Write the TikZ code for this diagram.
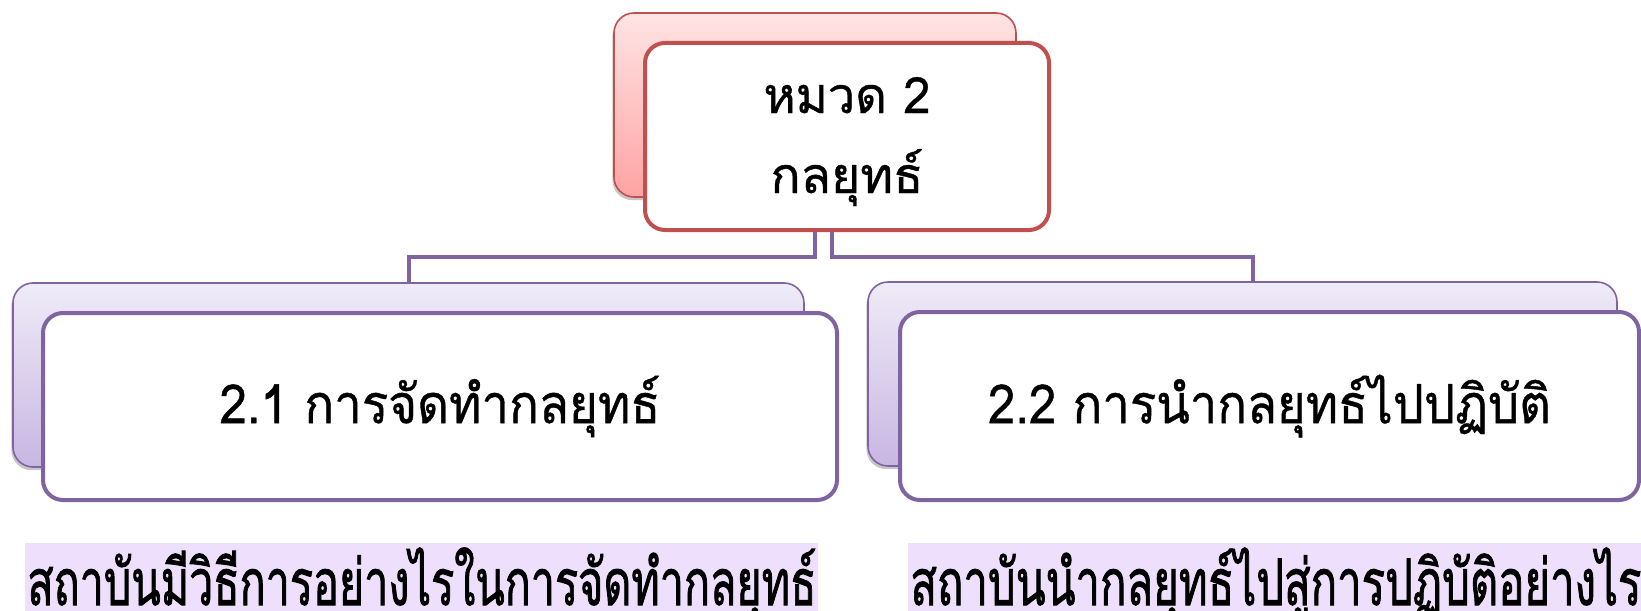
\documentclass[tikz,border=0pt]{standalone}
\usepackage{fontspec}
\usepackage{graphicx}
\newfontfamily\thai[Script=Thai,FakeBold=0.8]{Loma}
\newfontfamily\thaiheavy[Script=Thai,FakeBold=1.6]{Loma}
\usetikzlibrary{calc,shadows}

\definecolor{redline}{HTML}{C0504D}
\definecolor{purpline}{HTML}{8064A2}
\definecolor{pinktop}{HTML}{FFE4E4}
\definecolor{pinkbot}{HTML}{FFA3A3}
\definecolor{lavtop}{HTML}{EFEBF7}
\definecolor{lavbot}{HTML}{C8B6E2}
\definecolor{markbg}{HTML}{EEE0FC}

\tikzset{
  softshadow/.style={drop shadow={shadow xshift=-0.8pt, shadow yshift=-1.6pt, opacity=0.22, fill=black}},
  backcard/.style={rounded corners=10pt, inner sep=0pt, line width=0.8pt, softshadow},
  frontcard/.style={rounded corners=10pt, inner sep=0pt, line width=2pt, fill=white, align=center},
  redback/.style={backcard, draw=redline, top color=pinktop, bottom color=pinkbot},
  redfront/.style={frontcard, draw=redline},
  purback/.style={backcard, draw=purpline, top color=lavtop, bottom color=lavbot},
  purfront/.style={frontcard, draw=purpline, font=\thai\fontsize{27pt}{32pt}\selectfont},
  titleline/.style={inner sep=0pt, anchor=base, font=\thai\fontsize{25pt}{30pt}\selectfont},
  conn/.style={draw=purpline, line width=2pt},
  caption/.style={fill=markbg, inner xsep=1pt, inner ysep=0pt, text height=31pt, text depth=6pt, anchor=base west, font=\thaiheavy\fontsize{32pt}{36pt}\selectfont},
}

\begin{document}
\begin{tikzpicture}[x=0.5pt, y=-0.5pt]
  \useasboundingbox (0,0) rectangle (1641,610);
  \fill[white] (0,0) rectangle (1641,610);

  % top card: chapter title
  \node[redback, minimum width=201pt, minimum height=92pt] (topback) at (815,105) {};
  \node[redfront, minimum width=202pt, minimum height=93.5pt] (topfront) at (847,136.5) {};
  \node[titleline] (title1) at (847,113) {\resizebox{83.5pt}{\height}{หมวด 2}};
  \node[titleline] (title2) at (847,193) {\resizebox{76.5pt}{\height}{กลยุทธ์}};

  % second level cards
  \node[purback, minimum width=395.5pt, minimum height=92pt] (leftback) at (408.5,375) {};
  \node[purfront, minimum width=397pt, minimum height=93.5pt] (leftfront) at (440,406.5)
    {\resizebox{220.5pt}{\height}{2.1 การจัดทำกลยุทธ์}};

  \node[purback, minimum width=374.5pt, minimum height=92pt] (rightback) at (1242.5,374) {};
  \node[purfront, minimum width=369.5pt, minimum height=94pt] (rightfront) at (1269.5,406)
    {\resizebox{281.5pt}{\height}{2.2 การนำกลยุทธ์ไปปฏิบัติ}};

  % hierarchy connectors
  \coordinate (bus) at (0,257);
  \coordinate (tapL) at (topback.south);
  \coordinate (tapR) at ([xshift=8.5pt]topback.south);
  \coordinate (dropR) at ([xshift=5.25pt]rightback.north);
  \draw[conn] (tapL |- topfront.south) -- (tapL |- bus) -| (leftback.north);
  \draw[conn] (tapR |- topfront.south) -- (tapR |- bus) -| (dropR);

  % guiding questions
  \node[caption] (capL) at (25,605) {\resizebox{394.5pt}{\height}{สถาบันมีวิธีการอย่างไรในการจัดทำกลยุทธ์}};
  \node[caption] (capR) at (908,605) {\resizebox{365.5pt}{\height}{สถาบันนำกลยุทธ์ไปสู่การปฏิบัติอย่างไร}};
\end{tikzpicture}
\end{document}
